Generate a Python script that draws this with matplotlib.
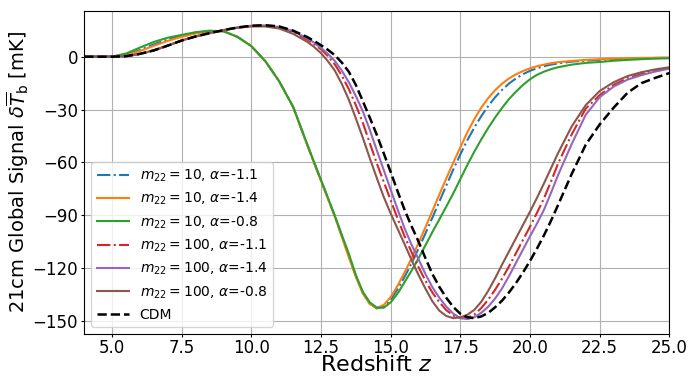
import matplotlib
matplotlib.use("Agg")
import matplotlib.pyplot as plt

# redshift samples (denser around the absorption trough)
z = [4.0, 4.5, 5.0, 5.5, 6.0, 6.5, 7.0, 7.5, 8.0, 8.5, 9.0, 9.5, 10.0, 10.5, 11.0, 11.5,
     12.0, 12.25, 12.5, 12.75, 13.0, 13.25, 13.5, 13.75, 14.0, 14.25, 14.5, 14.75,
     15.0, 15.25, 15.5, 15.75, 16.0, 16.25, 16.5, 16.75, 17.0, 17.25, 17.5, 17.75,
     18.0, 18.25, 18.5, 18.75, 19.0, 19.25, 19.5, 19.75, 20.0, 20.25, 20.5, 20.75,
     21.0, 21.5, 22.0, 22.5, 23.0, 23.5, 24.0, 24.5, 25.0]

# global signal [mK]
m10_a11 = [0, 0, 0, 1.2, 3.8, 7.0, 9.8, 12.0, 13.7, 14.6, 14.5, 11.3, 6.0, -2.5, -14, -28.5,
           -49.8, -60.1, -70.3, -80.5, -90.8, -102, -113.3, -124.5, -134, -140.2, -143, -141.8,
           -138, -132, -125, -117.3, -109, -100.3, -91.3, -82.2, -73, -64, -55.5, -47.5,
           -40.3, -33.8, -28, -23, -18.8, -15.2, -12.3, -9.9, -8, -6.6, -5.4, -4.5,
           -3.8, -2.8, -2.2, -1.8, -1.4, -1.1, -0.9, -0.7, -0.6]
m10_a14 = [0, 0, 0, 1.0, 3.2, 6.2, 9.0, 11.3, 13.2, 14.4, 14.6, 11.3, 6.0, -2.5, -14, -28.5,
           -50, -60.3, -70.5, -80.7, -91, -102.5, -114, -125, -134.5, -140.5, -142.7, -141,
           -136.5, -130, -122.5, -114.5, -105.8, -96.8, -87.5, -78.2, -69, -60, -51.5, -43,
           -35.5, -29, -23.5, -19, -15.3, -12.3, -10, -8.1, -6.6, -5.4, -4.5, -3.7,
           -3.1, -2.4, -1.8, -1.4, -1.1, -0.9, -0.7, -0.6, -0.5]
m10_a08 = [0, 0, 0.1, 1.8, 5.2, 8.4, 10.8, 12.4, 13.9, 14.8, 14.4, 11.3, 6.0, -2.5, -14, -28.5,
           -49.5, -59.8, -70, -80.2, -90.5, -101.3, -112, -124, -133.5, -139.5, -142.5, -142.6,
           -139.5, -134.5, -128, -121.5, -114.5, -107, -99.5, -92.3, -85, -77.5, -69.5, -61.5,
           -54, -47, -40.5, -34.5, -29, -24, -19.8, -16, -12.8, -10.3, -8.5, -7.1,
           -6, -4.5, -3.5, -3, -2.3, -1.8, -1.4, -1.1, -0.9]
m100_a11 = [0, 0, 0, 0.3, 1.6, 3.6, 6.3, 9.2, 11.5, 13.4, 15.1, 16.5, 17.4, 17.5, 16.5, 14.0,
            9.8, 7.2, 4.2, 0.3, -4.5, -10.8, -18.5, -27.5, -37.5, -49, -60.5, -71,
            -81.5, -92, -102, -111, -119.5, -127.3, -134, -139.5, -144, -147, -148.5, -148.2,
            -146.5, -142.8, -138, -132.3, -126, -119, -111.5, -104, -96.5, -88.7, -80.5, -71,
            -61, -44, -29.5, -21.8, -16, -12.2, -9.8, -7.8, -6.4]
m100_a14 = [0, 0, 0, 0.3, 1.6, 3.6, 6.3, 9.2, 11.5, 13.4, 15.1, 16.6, 17.6, 17.7, 16.9, 14.5,
            10.5, 8.0, 5.0, 1.6, -2.5, -8, -14.5, -22.3, -31, -41.5, -53, -64.3,
            -75.5, -86.8, -97.5, -106.8, -115, -123.5, -131, -137, -142, -146, -148.5, -149,
            -148, -145.5, -142, -137.3, -131.5, -124.5, -117, -109.5, -102, -94.8, -87, -77.5,
            -67.5, -49.5, -33, -23, -17, -13, -10.5, -8.4, -6.8]
m100_a08 = [0, 0, 0, 0.3, 1.6, 3.6, 6.3, 9.2, 11.5, 13.4, 15.0, 16.4, 17.2, 17.2, 16.0, 13.0,
            8.5, 5.6, 2.0, -2.6, -8, -15.6, -24.5, -35, -46, -57.6, -68.8, -79.6,
            -89, -97.8, -106.5, -115.5, -124, -131.8, -139, -144.3, -147.3, -148.5, -148, -146.6,
            -143.8, -139.2, -133, -125.8, -118, -110.5, -103, -95.5, -88, -80.2, -72, -63.5,
            -55, -39.5, -27.5, -19.5, -14.5, -11, -8.8, -7.2, -6]
cdm = [0, 0, 0, 0.3, 1.6, 3.6, 6.3, 9.2, 11.5, 13.4, 15.1, 16.6, 17.6, 17.9, 17.2, 14.8,
       11.2, 9.0, 6.5, 3.9, 0.8, -3.4, -8.6, -16.0, -25.2, -34.6, -44.3, -54.8,
       -65.5, -76.5, -87, -96.3, -105, -114.5, -123.5, -130.8, -137, -142.2, -146, -148,
       -148.5, -147.5, -145.5, -142.3, -138.5, -133.8, -128.5, -122.5, -116, -109, -101.5, -93.3,
       -84.5, -66.5, -50, -38.5, -29, -20.5, -15, -12, -9.3]

series = [
    (m10_a11, r'$m_{22}=10$, $\alpha$=-1.1', 'C0', '-.'),
    (m10_a14, r'$m_{22}=10$, $\alpha$=-1.4', 'C1', '-'),
    (m10_a08, r'$m_{22}=10$, $\alpha$=-0.8', 'C2', '-'),
    (m100_a11, r'$m_{22}=100$, $\alpha$=-1.1', 'C3', '-.'),
    (m100_a14, r'$m_{22}=100$, $\alpha$=-1.4', 'C4', '-'),
    (m100_a08, r'$m_{22}=100$, $\alpha$=-0.8', 'C5', '-'),
]

fig = plt.figure(figsize=(6.9, 3.77), dpi=100)
ax = fig.add_axes([0.122, 0.114, 0.848, 0.857])

for vals, lab, col, ls in series:
    ax.plot(z, vals, color=col, ls=ls, lw=1.5, label=lab)
ax.plot(z, cdm, 'k--', lw=1.8, label='CDM')

ax.set_xlim(4, 25)
ax.set_ylim(-157.5, 26)
ax.set_yticks([0, -30, -60, -90, -120, -150])
ax.tick_params(labelsize=12, length=2.5, pad=2)
ax.tick_params(axis='x', pad=1)
ax.grid(True)
ax.set_xlabel(r'Redshift $z$', fontsize=16, labelpad=-1)
ax.set_ylabel(r'21cm Global Signal $\delta\overline{T}_{\rm b}$ [mK]', fontsize=14, labelpad=1)
ax.legend(loc='lower left', fontsize=10, handlelength=2.3)

fig.savefig('out.png', dpi=100)
